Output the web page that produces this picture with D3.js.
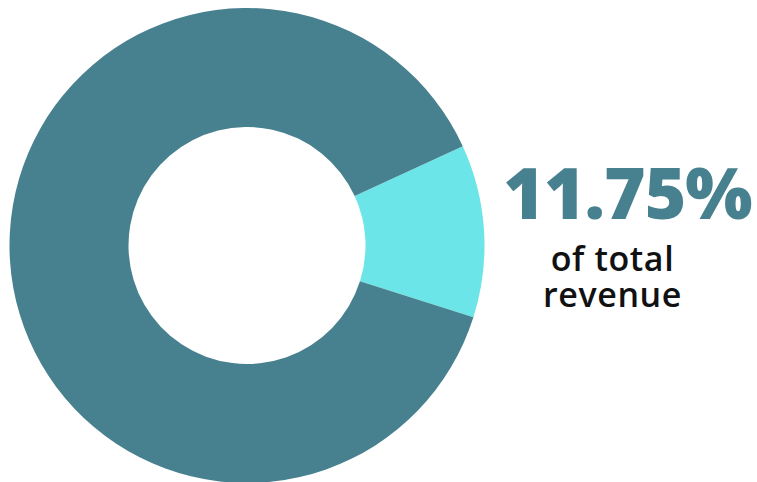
<!DOCTYPE html>
<html lang="en">
<head>
    <meta charset="UTF-8">
    <title>Share of total revenue</title>
    <script src="https://d3js.org/d3.v7.min.js"></script>
    <style>
        body { margin: 0; background: #fff; }
    </style>
</head>
<body>
    <svg width="757" height="482"></svg>

    <script>
        // Data
        const labels = ["share", "rest"];
        const values = [11.75, 88.25];
        const colors = ["#6be5e7", "#47808e"];
        const bigLabel = "11.75%";
        const captionLines = ["of total", "revenue"];

        const width = 757, height = 482;
        const cx = 247, cy = 245.5;
        const outerR = 237.5, innerR = 118.5;

        const svg = d3.select("svg")
            .attr("width", width)
            .attr("height", height);

        // the highlighted slice starts a bit past 2 o'clock
        const start = 65.3 * Math.PI / 180;
        const pie = d3.pie()
            .sort(null)
            .value(d => d)
            .startAngle(start)
            .endAngle(start + 2 * Math.PI);

        const arc = d3.arc()
            .innerRadius(innerR)
            .outerRadius(outerR);

        const color = d3.scaleOrdinal()
            .domain(labels)
            .range(colors);

        svg.append("g")
            .attr("transform", `translate(${cx},${cy})`)
            .selectAll("path")
            .data(pie(values))
            .join("path")
            .attr("d", arc)
            .attr("fill", (d, i) => color(labels[i]));

        svg.append("text")
            .attr("x", 627.5)
            .attr("y", 219)
            .attr("text-anchor", "middle")
            .attr("font-family", "'Open Sans', sans-serif")
            .attr("font-weight", 800)
            .attr("font-size", 71)
            .attr("letter-spacing", -1)
            .attr("fill", "#47808e")
            .text(bigLabel);

        const captionY = [270.5, 306.5];
        captionLines.forEach((t, i) => {
            svg.append("text")
                .attr("x", 612.5)
                .attr("y", captionY[i])
                .attr("text-anchor", "middle")
                .attr("font-family", "'Open Sans', sans-serif")
                .attr("font-weight", 600)
                .attr("font-size", 34)
                .attr("letter-spacing", 0.6)
                .attr("fill", "#111")
                .text(t);
        });
    </script>
</body>
</html>
